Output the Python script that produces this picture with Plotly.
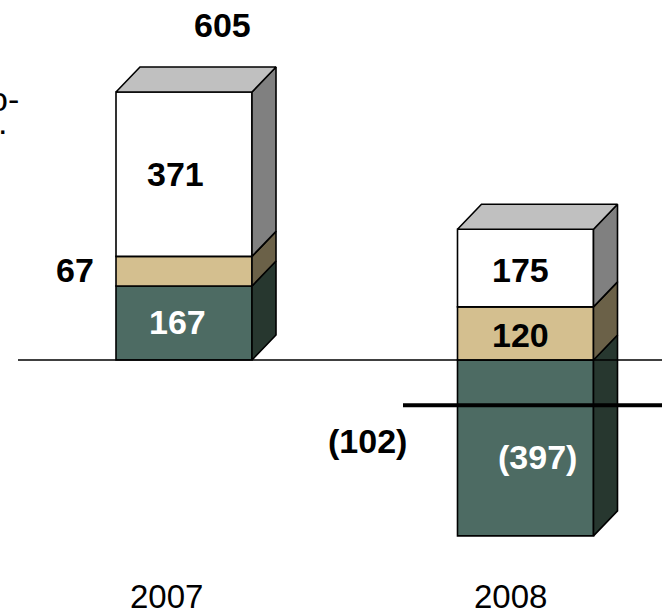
import plotly.graph_objects as go

# ---- data ----
years = ["2007", "2008"]
series_names = ["Green", "Tan", "White"]
green_vals = [167, -397]
tan_vals = [67, 120]
white_vals = [371, 175]
totals_label = ["605", None]
net_label = "(102)"

# ---- style ----
front_cols = {"Green": "#4d6b63", "Tan": "#d4bf8f", "White": "#ffffff"}
side_cols = {"Green": "#27372f", "Tan": "#6b6148", "White": "#808080"}
top_col = "#c0c0c0"
label_cols = {"Green": "white", "Tan": "black", "White": "black"}

W, H = 662, 613
PX_PER_UNIT = 0.443
ZERO_PX = 360
X_PX_PER_UNIT = 341.5
X0_PX = 184

yr = [-(H - ZERO_PX) / PX_PER_UNIT, ZERO_PX / PX_PER_UNIT]
xr = [-X0_PX / X_PX_PER_UNIT, (W - X0_PX) / X_PX_PER_UNIT]

bar_w = 136 / X_PX_PER_UNIT
dx = 24 / X_PX_PER_UNIT
dy = 25 / PX_PER_UNIT

xs = list(range(len(years)))
vals = {"Green": green_vals, "Tan": tan_vals, "White": white_vals}

fig = go.Figure()

# front faces
for name in series_names:
    fig.add_trace(go.Bar(
        x=xs, y=vals[name], width=bar_w,
        marker=dict(color=front_cols[name], line=dict(color="black", width=1.6)),
        name=name, showlegend=False, hoverinfo="skip",
    ))

# side and top faces computed from the stacked values
for i, x in enumerate(xs):
    pos_base, neg_base = 0, 0
    segs = []
    for name in series_names:
        v = vals[name][i]
        if v >= 0:
            y0, y1 = pos_base, pos_base + v
            pos_base = y1
        else:
            y0, y1 = neg_base + v, neg_base
            neg_base = y0
        segs.append((name, y0, y1))
    xR = x + bar_w / 2
    xL = x - bar_w / 2
    for name, y0, y1 in segs:
        fig.add_trace(go.Scatter(
            x=[xR, xR + dx, xR + dx, xR, xR],
            y=[y0, y0 + dy, y1 + dy, y1, y0],
            fill="toself", fillcolor=side_cols[name], mode="lines",
            line=dict(color="black", width=1.6), showlegend=False, hoverinfo="skip",
        ))
    top = pos_base
    fig.add_trace(go.Scatter(
        x=[xL, xL + dx, xR + dx, xR, xL],
        y=[top, top + dy, top + dy, top, top],
        fill="toself", fillcolor=top_col, mode="lines",
        line=dict(color="black", width=1.6), showlegend=False, hoverinfo="skip",
    ))

net_2008 = green_vals[1] + tan_vals[1] + white_vals[1]

# zero line & net line
fig.add_shape(type="line", xref="x", yref="y", x0=(18 - X0_PX) / X_PX_PER_UNIT, x1=xr[1],
              y0=0, y1=0, line=dict(color="black", width=1.3), layer="above")
fig.add_shape(type="line", xref="x", yref="y", x0=(403 - X0_PX) / X_PX_PER_UNIT, x1=xr[1],
              y0=net_2008, y1=net_2008, line=dict(color="black", width=4), layer="above")

FONT = "Liberation Sans, Arial, sans-serif"
NUM_SIZE = 34
YEAR_SIZE = 33

def px2x(px):
    return (px - X0_PX) / X_PX_PER_UNIT

def py2y(py):
    return (ZERO_PX - py) / PX_PER_UNIT

def fmt(v):
    return f"({abs(v)})" if v < 0 else f"{v}"

ann = []
label_pos = {
    ("Green", 0): (177, 322), ("Tan", 0): (75, 270), ("White", 0): (175, 174),
    ("Green", 1): (537, 457), ("Tan", 1): (520, 335), ("White", 1): (520, 270),
}
for (name, i), (px, py) in label_pos.items():
    col = label_cols[name]
    ann.append(dict(x=px2x(px), y=py2y(py), xref="x", yref="y",
                    text="<b>" + fmt(vals[name][i]) + "</b>",
                    showarrow=False, font=dict(family=FONT, size=NUM_SIZE, color=col)))
ann.append(dict(x=px2x(222), y=py2y(25), xref="x", yref="y", text="<b>" + totals_label[0] + "</b>",
                showarrow=False, font=dict(family=FONT, size=NUM_SIZE, color="black")))
ann.append(dict(x=px2x(367), y=py2y(441), xref="x", yref="y", text="<b>" + net_label + "</b>",
                showarrow=False, font=dict(family=FONT, size=NUM_SIZE, color="black")))
for i, yname in enumerate(years):
    ann.append(dict(x=px2x([166, 510][i]), y=py2y(596), xref="x", yref="y", text=yname,
                    showarrow=False, font=dict(family=FONT, size=YEAR_SIZE, color="black")))
# cut-off text fragments at left edge
ann.append(dict(x=21 / W, y=1 - 99 / H, xref="paper", yref="paper", xanchor="right",
                yanchor="middle", text="o-", showarrow=False,
                font=dict(family=FONT, size=34, color="black")))
ann.append(dict(x=-4 / W, y=1 - 122 / H, xref="paper", yref="paper", xanchor="left",
                yanchor="middle", text=".", showarrow=False,
                font=dict(family=FONT, size=34, color="black")))

fig.update_layout(
    width=W, height=H, margin=dict(l=0, r=0, t=0, b=0),
    paper_bgcolor="white", plot_bgcolor="white",
    barmode="relative", annotations=ann,
    xaxis=dict(range=xr, visible=False, fixedrange=True),
    yaxis=dict(range=yr, visible=False, fixedrange=True),
    showlegend=False,
)

fig.write_html("out.html", config={"displayModeBar": False},
               post_script="document.body.style.margin='0';document.body.style.overflow='hidden';")
